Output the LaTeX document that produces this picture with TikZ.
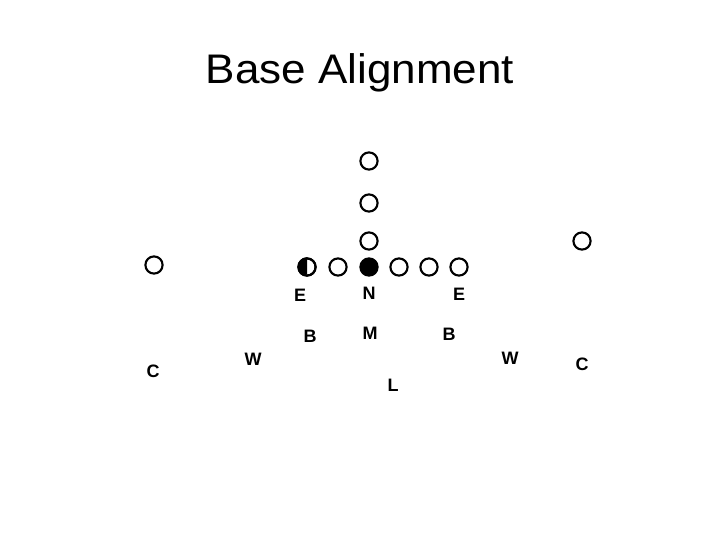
\documentclass[tikz,border=0pt]{standalone}
\usepackage{fontspec}
\setmainfont{Liberation Sans}
\begin{document}
\begin{tikzpicture}[x=0.75pt,y=-0.75pt,
  pl/.style={circle,draw=black,line width=1.6pt,fill=white,minimum size=12.9pt,inner sep=0pt},
  dl/.style={pl,fill=black},
  lbl/.style={font=\fontsize{13.5pt}{15pt}\selectfont\bfseries,inner sep=0pt,anchor=base,yshift=-4.75pt},
  ttl/.style={font=\fontsize{31pt}{34pt}\selectfont,inner sep=0pt,anchor=base,xscale=1.065}]
\useasboundingbox (0,0) rectangle (720,540);
\node[ttl] (title) at (360,83) {Base Alignment};
% offense
\node[pl] (q1) at (369,161) {};
\node[pl] (q2) at (369,203) {};
\node[pl] (q3) at (369,241) {};
\node[pl] (h) at (307,267) {};
\node[pl] (g1) at (338,267) {};
\node[dl] (c) at (369,267) {};
\node[pl] (g2) at (399,267) {};
\node[pl] (t2) at (429,267) {};
\node[pl] (te) at (459,267) {};
\node[pl] (wl) at (154,265) {};
\node[pl] (wr) at (582,241) {};
\fill (h.north) arc[start angle=90,end angle=270,radius=6.45pt] -- cycle;
\node[pl,fill=none] (hring) at (h) {};
% defense
\node[lbl] (e1) at (300,295) {E};
\node[lbl] (n) at (369,293) {N};
\node[lbl] (e2) at (459,294) {E};
\node[lbl] (b1) at (310,336) {B};
\node[lbl] (m) at (370,333) {M};
\node[lbl] (b2) at (449,334) {B};
\node[lbl] (w1) at (253,359) {W};
\node[lbl] (w2) at (510,358) {W};
\node[lbl] (c1) at (153,371) {C};
\node[lbl] (c2) at (582,364) {C};
\node[lbl] (l) at (393,385) {L};
\end{tikzpicture}
\end{document}
